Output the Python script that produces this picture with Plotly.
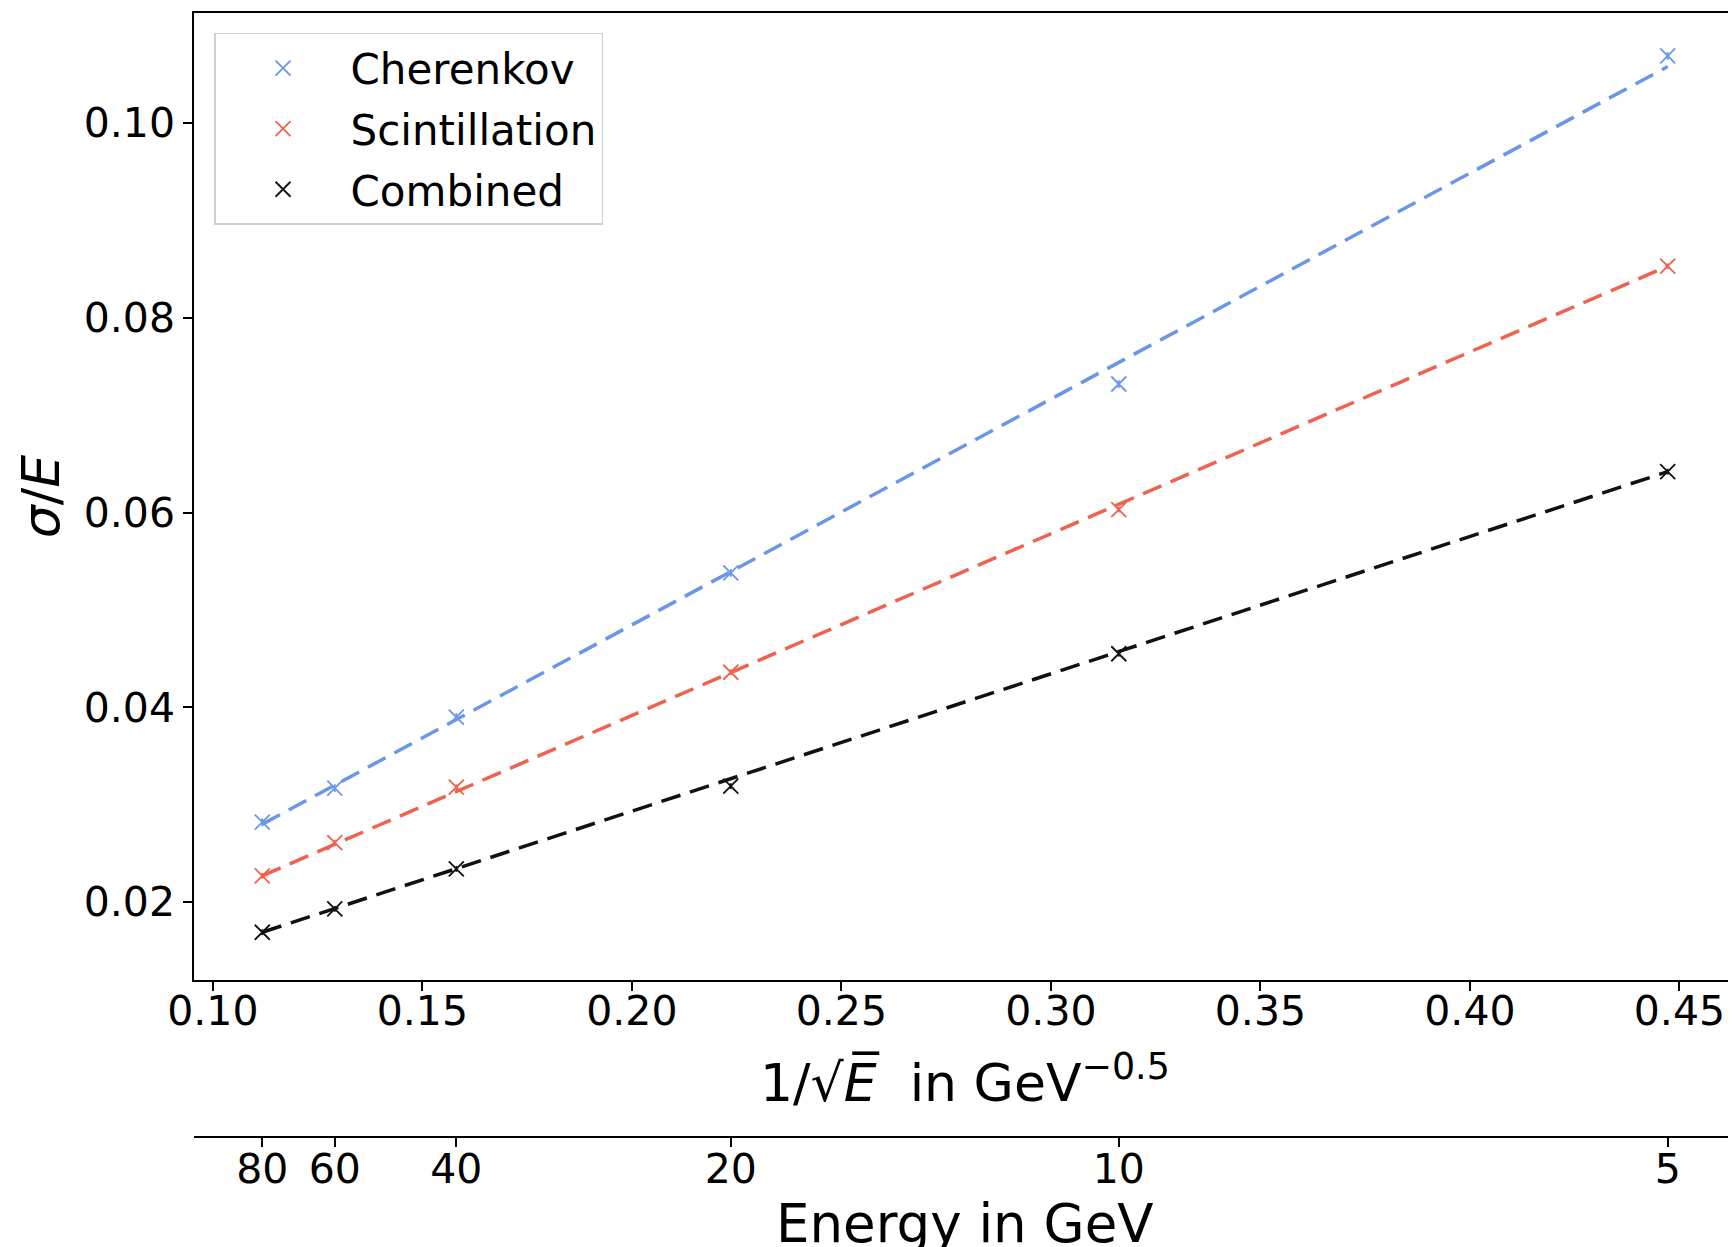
import plotly.graph_objects as go

# ---- data ----
energies = [80, 60, 40, 20, 10, 5]
energy_labels = ["80", "60", "40", "20", "10", "5"]
inv_sqrt_e = [0.1118, 0.1291, 0.1581, 0.2236, 0.3162, 0.4472]

cherenkov = [0.0282, 0.0317, 0.0390, 0.0538, 0.0732, 0.1069]
scintillation = [0.0227, 0.0261, 0.0318, 0.0436, 0.0603, 0.0853]
combined = [0.0169, 0.0193, 0.0234, 0.0319, 0.0455, 0.0642]

cherenkov_err = [0.0004, 0.0004, 0.0004, 0.0004, 0.0004, 0.0004]
scintillation_err = [0.0003, 0.0003, 0.0003, 0.0003, 0.0003, 0.0003]
combined_err = [0.0003, 0.0003, 0.0003, 0.0003, 0.0003, 0.0003]

fit_x = [0.1118, 0.4472]
cherenkov_fit = [0.0280, 0.1058]
scintillation_fit = [0.0227, 0.0853]
combined_fit = [0.0169, 0.0642]

x_range = [0.0955, 0.4635]
y_range = [0.0120, 0.1113]
x_ticks = [0.10, 0.15, 0.20, 0.25, 0.30, 0.35, 0.40, 0.45]
y_ticks = [0.02, 0.04, 0.06, 0.08, 0.10]

series = [
    ("Cherenkov", cherenkov, cherenkov_err, cherenkov_fit, "#6a96ea"),
    ("Scintillation", scintillation, scintillation_err, scintillation_fit, "#f0614e"),
    ("Combined", combined, combined_err, combined_fit, "#111111"),
]

FONT = "DejaVu Sans"
TICK = 41
fig = go.Figure()

for name, vals, errs, fit, color in series:
    fig.add_trace(go.Scatter(
        x=fit_x, y=fit, mode="lines",
        line=dict(color=color, width=3.5, dash="20px,10px"),
        showlegend=False, hoverinfo="skip",
    ))

for name, vals, errs, fit, color in series:
    fig.add_trace(go.Scatter(
        x=inv_sqrt_e, y=vals, mode="markers", name=name, legendgroup=name,
        marker=dict(symbol="x-thin-open", size=15, color=color,
                    line=dict(color=color, width=1.8)),
        error_y=dict(type="data", array=errs, visible=True,
                     color=color, thickness=1.8, width=0),
    ))

# secondary (energy) axis helper trace
fig.add_trace(go.Scatter(
    x=inv_sqrt_e, y=combined, xaxis="x2", mode="markers",
    marker=dict(opacity=0), showlegend=False, hoverinfo="skip",
))

axis_common = dict(
    showline=True, linecolor="black", linewidth=1.5,
    ticks="outside", ticklen=9, tickwidth=1.5, tickcolor="black",
    showgrid=False, zeroline=False, automargin=False,
    tickfont=dict(family=FONT, size=TICK),
)

fig.update_layout(
    width=1728, height=1239,
    margin=dict(l=186, r=0, t=5, b=0, autoexpand=False),
    paper_bgcolor="white", plot_bgcolor="white",
    font=dict(family=FONT, size=TICK, color="black"),
    showlegend=True,
    legend=dict(
        x=0.013, y=0.984, xanchor="left", yanchor="top",
        bgcolor="rgba(255,255,255,0.8)", bordercolor="#d0d0d0", borderwidth=1.5,
        font=dict(family=FONT, size=42), itemwidth=125,
        tracegroupgap=3,
    ),
    xaxis=dict(
        range=x_range, tickvals=x_ticks, ticktext=[f"{v:.2f}" for v in x_ticks],
        mirror=True, ticklabelstandoff=-15,
        **axis_common,
    ),
    yaxis=dict(
        range=y_range, tickvals=y_ticks, ticktext=[f"{v:.2f}" for v in y_ticks],
        domain=[0.2164, 1.0], mirror=True,
        title=dict(text="<i>σ</i>/<i>E</i>", font=dict(family=FONT, size=52), standoff=8),
        **axis_common,
    ),
    xaxis2=dict(
        overlaying="x", anchor="free", position=0.0891, side="bottom",
        range=x_range, tickvals=inv_sqrt_e, ticktext=energy_labels,
        ticklabelstandoff=-13,
        **axis_common,
    ),
    annotations=[
        dict(text="1/√<i>E̅</i>  in GeV<sup>−0.5</sup>", xref="paper", yref="paper",
             x=0.5, y=0.136, xanchor="center", yanchor="middle", showarrow=False,
             font=dict(family=FONT, size=52)),
        dict(text="Energy in GeV", xref="paper", yref="paper",
             x=0.5, y=0.0194, xanchor="center", yanchor="middle", showarrow=False,
             font=dict(family=FONT, size=53)),
    ],
)

fig.write_html("out.html")
